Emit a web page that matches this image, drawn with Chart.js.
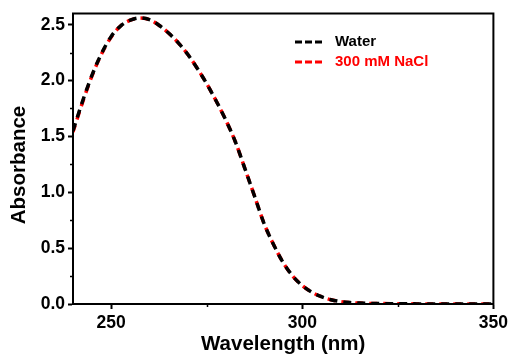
<!DOCTYPE html>
<html>
<head>
<meta charset="utf-8">
<script src="https://cdn.jsdelivr.net/npm/chart.js@4.4.0/dist/chart.umd.min.js"></script>
<style>
  html, body { margin: 0; padding: 0; background: #fff; }
  #wrap { width: 512px; height: 360px; }
</style>
</head>
<body>
<div id="wrap"><canvas id="myChart" width="512" height="360"></canvas></div>
<script>
'use strict';

// data

var wavelengths = [240, 242.5, 245, 247.5, 250, 252.5, 255, 257.5, 260, 262.5, 265, 267.5, 270, 272.5, 275, 277.5, 280, 282.5, 285, 287.5, 290, 292.5, 295, 297.5, 300, 302.5, 305, 307.5, 310, 312.5, 315, 320, 325, 330, 340, 350];
var waterAbs = [1.55, 1.815, 2.05, 2.245, 2.395, 2.49, 2.54, 2.56, 2.545, 2.495, 2.425, 2.34, 2.235, 2.11, 1.97, 1.815, 1.645, 1.45, 1.21, 0.965, 0.72, 0.53, 0.37, 0.25, 0.165, 0.105, 0.065, 0.038, 0.022, 0.013, 0.008, 0.004, 0.002, 0.001, 0.0, 0.0];
var naclAbs = [1.54, 1.805, 2.045, 2.24, 2.39, 2.49, 2.54, 2.56, 2.545, 2.495, 2.425, 2.34, 2.235, 2.11, 1.97, 1.815, 1.645, 1.45, 1.21, 0.965, 0.72, 0.53, 0.37, 0.25, 0.165, 0.105, 0.065, 0.038, 0.022, 0.013, 0.008, 0.004, 0.002, 0.001, 0.0, 0.0];

var seriesNames = ['Water', '300 mM NaCl'];
var seriesColors = ['#000000', '#ff0000'];

var xTicks = [250, 300, 350];
var xMinorTicks = [275, 325];
var yTicks = [0, 0.5, 1.0, 1.5, 2.0, 2.5];
var yMinorTicks = [0.25, 0.75, 1.25, 1.75, 2.25];

var fontFamily = '"Liberation Sans", Arial, sans-serif';

function toPoints(xs, ys) {
  var pts = [];
  for (var i = 0; i < xs.length; i++) {
    pts.push({ x: xs[i], y: ys[i] });
  }
  return pts;
}

// frame, minor ticks, y title and the legend box in the plot

var extras = {
  id: 'extras',
  afterDraw: function(chart) {
    var ctx = chart.ctx;
    var area = chart.chartArea;
    var xs = chart.scales.x;
    var ys = chart.scales.y;
    ctx.save();

    ctx.strokeStyle = '#000';
    ctx.lineWidth = 2;
    ctx.setLineDash([]);
    ctx.strokeRect(area.left, area.top, area.right - area.left, area.bottom - area.top);

    ctx.lineWidth = 1.5;
    ctx.beginPath();
    for (var i = 0; i < xMinorTicks.length; i++) {
      var px = Math.round(xs.getPixelForValue(xMinorTicks[i])) + 0.5;
      ctx.moveTo(px, area.bottom);
      ctx.lineTo(px, area.bottom + 3);
    }
    for (var j = 0; j < yMinorTicks.length; j++) {
      var py = Math.round(ys.getPixelForValue(yMinorTicks[j])) + 0.5;
      ctx.moveTo(area.left, py);
      ctx.lineTo(area.left - 3, py);
    }
    ctx.stroke();

    // y axis title
    ctx.save();
    ctx.translate(19, 165);
    ctx.rotate(-Math.PI / 2);
    ctx.font = 'bold 20.5px ' + fontFamily;
    ctx.fillStyle = '#000';
    ctx.textAlign = 'center';
    ctx.textBaseline = 'middle';
    ctx.fillText('Absorbance', 0, 0);
    ctx.restore();

    // legend
    var lx = 295;
    var ly = 42;
    ctx.font = 'bold 15px ' + fontFamily;
    ctx.textBaseline = 'middle';
    ctx.textAlign = 'left';
    for (var k = 0; k < seriesNames.length; k++) {
      var yy = ly + k * 20;
      ctx.strokeStyle = seriesColors[k];
      ctx.lineWidth = 3;
      ctx.setLineDash([7, 3]);
      ctx.beginPath();
      ctx.moveTo(lx, yy);
      ctx.lineTo(lx + 28, yy);
      ctx.stroke();
      ctx.setLineDash([]);
      ctx.fillStyle = seriesColors[k];
      ctx.fillText(seriesNames[k], lx + 40, yy);
    }
    ctx.restore();
  }
};

var ctx = document.getElementById('myChart').getContext('2d');
var chart = new Chart(ctx, {
  type: 'line',
  data: {
    datasets: [{
      label: seriesNames[0],
      data: toPoints(wavelengths, waterAbs),
      borderColor: seriesColors[0],
      borderWidth: 3.5,
      borderDash: [8, 6],
      pointRadius: 0,
      cubicInterpolationMode: 'monotone',
      fill: false
    }, {
      label: seriesNames[1],
      data: toPoints(wavelengths, naclAbs),
      borderColor: seriesColors[1],
      borderWidth: 3.5,
      borderDash: [8, 6],
      borderDashOffset: 1,
      pointRadius: 0,
      cubicInterpolationMode: 'monotone',
      fill: false
    }]
  },
  options: {
    responsive: false,
    animation: false,
    devicePixelRatio: 1,
    layout: { padding: { top: 13, right: 18, left: 0, bottom: 0 } },
    plugins: {
      legend: { display: false },
      tooltip: { enabled: false }
    },
    scales: {
      x: {
        type: 'linear',
        min: 240,
        max: 350,
        afterBuildTicks: function(scale) {
          scale.ticks = xTicks.map(function(v) { return { value: v }; });
        },
        afterFit: function(scale) { scale.height = 56; },
        grid: { drawOnChartArea: false, drawTicks: true, tickLength: 5, tickWidth: 2, tickColor: '#000' },
        border: { display: true, color: '#000', width: 2 },
        ticks: {
          color: '#000',
          padding: 4,
          maxRotation: 0,
          font: { family: fontFamily, size: 17.5, weight: 'bold' }
        },
        title: {
          display: true,
          text: 'Wavelength (nm)',
          color: '#000',
          padding: { top: 0, bottom: 3 },
          font: { family: fontFamily, size: 20.5, weight: 'bold' }
        }
      },
      y: {
        type: 'linear',
        min: 0,
        max: 2.6,
        afterBuildTicks: function(scale) {
          scale.ticks = yTicks.map(function(v) { return { value: v }; });
        },
        afterFit: function(scale) { scale.width = 73; },
        grid: { drawOnChartArea: false, drawTicks: true, tickLength: 5, tickWidth: 2, tickColor: '#000' },
        border: { display: true, color: '#000', width: 2 },
        ticks: {
          color: '#000',
          padding: 3,
          font: { family: fontFamily, size: 17.5, weight: 'bold' },
          callback: function(v) { return v.toFixed(1); }
        }
      }
    }
  },
  plugins: [extras]
});
</script>
</body>
</html>
